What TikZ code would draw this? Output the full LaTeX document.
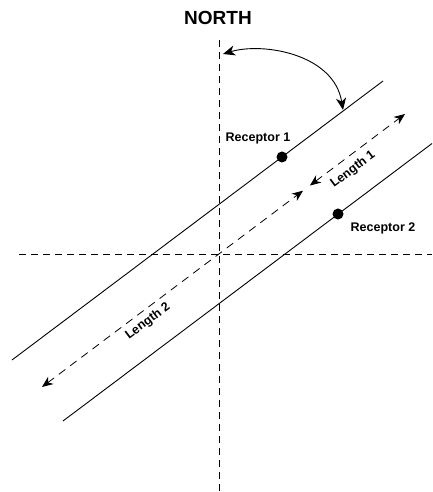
\documentclass[tikz,border=0pt]{standalone}
\usepackage{fontspec}
\setmainfont{Liberation Sans}
\usetikzlibrary{arrows.meta,calc}

\begin{document}
\begin{tikzpicture}[
    x=1pt, y=1pt,
    font=\bfseries\fontsize{12.5}{14}\selectfont,
    % axes of the compass frame
    axis/.style={line width=0.8pt, dash pattern=on 7pt off 5pt},
    % the two parallel receptor lines
    rayline/.style={line width=0.9pt},
    dot/.style={circle, fill=black, inner sep=0pt, minimum size=11pt},
    tag/.style={inner sep=1pt},
    dimarrow/.style={{Stealth[length=11pt, width=9pt, inset=3.5pt]}-{Stealth[length=11pt, width=9pt, inset=3.5pt]}, line width=0.8pt, dash pattern=on 8pt off 6pt},
    anglearrow/.style={{Stealth[length=12pt, width=10pt, inset=3.5pt]}-{Stealth[length=12pt, width=10pt, inset=3.5pt]}, line width=0.9pt}
]
\useasboundingbox (0,0) rectangle (432,492);

% compass axes
\node[font=\bfseries\fontsize{19}{21}\selectfont] (north) at (218,474) {NORTH};
\coordinate (ntop) at (219,452);
\coordinate (nbot) at (219,0);
\coordinate (wend) at (19,238);
\coordinate (eend) at (432,238);
\draw[axis] (ntop) -- (nbot);
\draw[axis] (wend) -- (eend);

% receptor lines
\coordinate (l1a) at (12,132);
\coordinate (l1b) at (383,411);
\coordinate (l2a) at (63,71);
\coordinate (l2b) at (432,348.5);
\draw[rayline] (l1a) -- (l1b);
\draw[rayline] (l2a) -- (l2b);

% receptors
\node[dot] (r1) at (282,335) {};
\node[dot] (r2) at (338,278) {};
\node[tag] (r1lbl) at (258,353) {Receptor 1};
\node[tag] (r2lbl) at (383,264) {Receptor 2};

% length arrows along the middle line
\coordinate (mA) at (42,105);
\coordinate (mB) at (405,378);
\coordinate (mL2) at ($(mA)!0.719!(mB)$);
\coordinate (mL1) at ($(mA)!0.738!(mB)$);
\draw[dimarrow] (mA) -- node[tag, pos=0.38, sloped, below=4pt] (len2) {Length 2} (mL2);
\draw[dimarrow] (mL1) -- node[tag, pos=0.37, sloped, below=6pt] (len1) {Length 1} (mB);

% angle from north
\coordinate (angA) at (223,438);
\coordinate (angB) at (343,382);
\draw[anglearrow] (angA) .. controls (263,450) and (334,438) .. (angB);

\end{tikzpicture}
\end{document}
